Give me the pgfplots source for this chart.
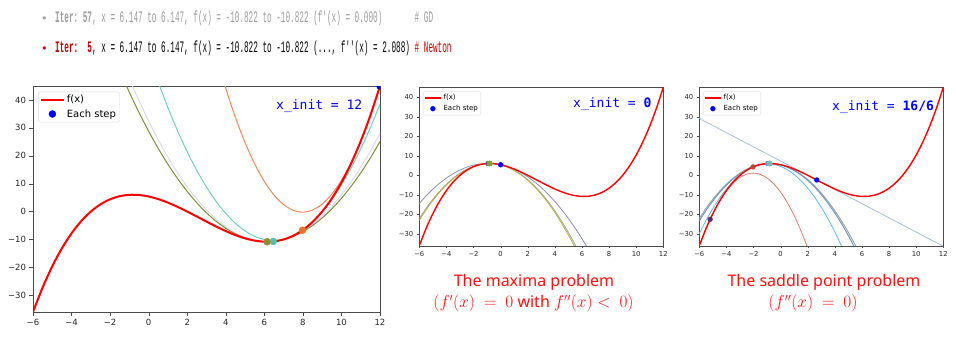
\documentclass[border=0pt]{standalone}
\usepackage{fontspec}
\setmainfont{DejaVu Sans}
\setmonofont{Liberation Mono}
\newfontfamily\capfont{Noto Sans}
\newfontfamily\initfont{DejaVu Sans Mono}
\usepackage{graphicx}
\usepackage{pgfplots}
\usepackage{pgfplotstable}
\pgfplotsset{compat=1.18}

\definecolor{qorange}{HTML}{EC8A60}
\definecolor{qteal}{HTML}{74CFBC}
\definecolor{qlav}{HTML}{DDD8F8}
\definecolor{qolive}{HTML}{7F8E3C}
\definecolor{dorange}{HTML}{E8722E}
\definecolor{dteal}{HTML}{55BDB2}
\definecolor{dolive}{HTML}{8E8C36}
\definecolor{mpurp}{HTML}{8C8CB8}
\definecolor{molive}{HTML}{B2AE3E}
\definecolor{mgray}{HTML}{A0A4A0}
\definecolor{mdot1}{HTML}{4A5A9A}
\definecolor{mdot2}{HTML}{7FA532}
\definecolor{rline}{HTML}{A8BDE8}
\definecolor{rsalmon}{HTML}{E47D6C}
\definecolor{rlblue}{HTML}{5CBDF2}
\definecolor{rgblue}{HTML}{7A95C2}
\definecolor{rggreen}{HTML}{93ABA3}
\definecolor{rdpurp}{HTML}{5A2D6A}
\definecolor{rdred}{HTML}{C0442E}
\definecolor{rdteal}{HTML}{42A8D8}
\definecolor{rdgg}{HTML}{8DB3A8}
\definecolor{txtgray}{HTML}{9C9C9C}
\definecolor{dred}{HTML}{C00000}
\definecolor{capred}{HTML}{FF1010}

% f(x) sampled
\pgfplotstableread{
x y
-6 -36.0
-5.5 -27.1875
-5 -19.6
-4.5 -13.1625
-4 -7.8
-3.5 -3.4375
-3 0
-2.5 2.5875
-2 4.4
-1.5 5.5125
-1 6.0
-0.5 5.9375
0 5.4
0.5 4.4625
1 3.2
1.5 1.6875
2 0
2.5 -1.7875
3 -3.6
3.5 -5.3625
4 -7.0
4.5 -8.4375
5 -9.6
5.5 -10.4125
6 -10.8
6.5 -10.6875
7 -10.0
7.5 -8.6625
8 -6.6
8.5 -3.7375
9 0
9.5 4.6875
10 10.4
10.5 17.2125
11 25.2
11.5 34.4375
12 45.0
}\ftab

% final quadratic near the maximum
\pgfplotstableread{
x y
-6 -22.07
-5.5 -16.91
-5 -12.27
-4.5 -8.16
-4 -4.57
-3.5 -1.50
-3 1.04
-2.5 3.07
-2 4.57
-1.5 5.54
-1 6.00
-0.5 5.93
0 5.35
0.5 4.23
1 2.60
1.5 0.45
2 -2.23
2.5 -5.43
3 -9.16
3.5 -13.40
4 -18.17
4.5 -23.46
5 -29.27
5.5 -35.60
6 -42.46
}\qfin

\pgfplotsset{
  panel/.style={scale only axis, xmin=-6, xmax=12, ymin=-36, ymax=45,
    xtick={-6,-4,-2,0,2,4,6,8,10,12}, ytick={-30,-20,-10,0,10,20,30,40},
    xticklabels={−6,−4,−2,0,2,4,6,8,10,12},
    yticklabels={−30,−20,−10,0,10,20,30,40},
    tick align=outside, tick pos=left,
    axis line style={black!70}, major tick style={black!70},
    tick label style={text=black!85},
    clip marker paths=true, legend cell align=left,
    anchor=south west},
}

\begin{document}
\begin{tikzpicture}
\path[use as bounding box] (0pt,0pt) rectangle (956pt,360pt);

% ---------------- top text ----------------
\node[anchor=base, inner sep=0, text=txtgray, font=\fontsize{11}{12}\selectfont] at (44.3pt,338pt) {•};
\node[anchor=base west, inner sep=0, text=txtgray] at (55pt,337.5pt) {\scalebox{0.48}[1]{\ttfamily\fontsize{16}{18}\selectfont {\bfseries Iter:~57}, x = 6.147 to 6.147, f(x) = -10.822 to -10.822 (f'(x) = 0.000)~~~~~~~\# GD}};
\node[anchor=base, inner sep=0, text=dred, font=\fontsize{11}{12}\selectfont] at (44.3pt,308pt) {•};
\node[anchor=base west, inner sep=0, text=black] at (55pt,307.5pt) {\scalebox{0.48}[1]{\ttfamily\fontsize{16}{18}\selectfont \textcolor{dred}{\bfseries Iter:~~5}, x = 6.147 to 6.147, f(x) = -10.822 to -10.822 (..., f''(x) = 2.088) \textcolor{dred}{\# Newton}}};

% ---------------- left panel ----------------
\begin{axis}[panel, at={(33pt,48pt)}, width=347pt, height=226pt,
  tick label style={font=\fontsize{8.5}{10}\selectfont},
  major tick length=3.5pt,
  legend style={at={(0.015,0.975)}, anchor=north west, font=\fontsize{10}{12}\selectfont,
    draw=black!15, rounded corners=2pt, inner sep=1.5pt, row sep=1pt},
  legend image code/.code={\draw[mark repeat=2,mark phase=2,#1] plot coordinates {(0pt,0pt) (11.5pt,0pt) (23pt,0pt)};},
]
\addplot[qorange, line width=1pt, smooth, forget plot] coordinates {
(3.5,56.05) (4,44.20) (4.5,33.75) (5,24.70) (5.5,17.05) (6,10.80) (6.5,5.95) (7,2.50) (7.5,0.45) (8,-0.20) (8.5,0.55) (9,2.70) (9.5,6.25) (10,11.20) (10.5,17.55) (11,25.30) (11.5,34.45) (12,45.0)};
\addplot[qteal, line width=1pt, smooth, forget plot] coordinates {
(0,56.26) (0.5,46.35) (1,37.24) (1.5,28.92) (2,21.41) (2.5,14.69) (3,8.77) (3.5,3.64) (4,-0.69) (4.5,-4.22) (5,-6.95) (5.5,-8.88) (6,-10.02) (6.5,-10.36) (7,-9.91) (7.5,-8.65) (8,-6.60) (8.5,-3.75) (9,-0.11) (9.5,4.34) (10,9.58) (10.5,15.62) (11,22.45) (11.5,30.08) (12,38.51)};
\addplot[qlav, line width=1pt, smooth, forget plot] coordinates {
(-1.5,56.02) (-1,47.58) (-0.5,39.70) (0,32.40) (0.5,25.67) (1,19.51) (1.5,13.92) (2,8.89) (2.5,4.44) (3,0.55) (3.5,-2.76) (4,-5.51) (4.5,-7.68) (5,-9.29) (5.5,-10.32) (6,-10.79) (6.5,-10.69) (7,-10.02) (7.5,-8.77) (8,-6.96) (8.5,-4.58) (9,-1.63) (9.5,1.89) (10,5.98) (10.5,10.64) (11,15.87) (11.5,21.66) (12,28.03)};
\addplot[qolive, line width=1pt, smooth, forget plot] coordinates {
(-2,58.73) (-1.5,50.46) (-1,42.71) (-0.5,35.48) (0,28.77) (0.5,22.59) (1,16.94) (1.5,11.81) (2,7.20) (2.5,3.12) (3,-0.44) (3.5,-3.48) (4,-5.99) (4.5,-7.98) (5,-9.44) (5.5,-10.38) (6,-10.80) (6.5,-10.69) (7,-10.06) (7.5,-8.90) (8,-7.22) (8.5,-5.02) (9,-2.29) (9.5,0.96) (10,4.74) (10.5,9.04) (11,13.86) (11.5,19.21) (12,25.08)};
\addplot[red, line width=2pt, smooth] table[x=x,y=y] {\ftab};
\addlegendentry{f(x)}
\addplot[only marks, mark=*, mark size=3.5pt, color=blue] coordinates {(12,45)};
\addlegendentry{Each step}
\addplot[only marks, mark=*, mark size=3.5pt, color=dorange, forget plot] coordinates {(7.982,-6.687)};
\addplot[only marks, mark=*, mark size=3.5pt, color=dteal, forget plot] coordinates {(6.464,-10.714)};
\addplot[only marks, mark=*, mark size=3.5pt, color=qlav, forget plot] coordinates {(6.16,-10.822)};
\addplot[only marks, mark=*, mark size=3.5pt, color=dolive, forget plot] coordinates {(6.147,-10.822)};
\end{axis}

% ---------------- middle panel ----------------
\begin{axis}[panel, at={(419.3pt,114.3pt)}, width=244pt, height=158.4pt,
  tick label style={font=\fontsize{6.8}{8}\selectfont},
  major tick length=2.5pt,
  legend style={at={(0.015,0.975)}, anchor=north west, font=\fontsize{7}{8.4}\selectfont,
    draw=black!15, rounded corners=1.5pt, inner sep=1pt, row sep=0pt},
  legend image code/.code={\draw[mark repeat=2,mark phase=2,#1] plot coordinates {(0pt,0pt) (8pt,0pt) (16pt,0pt)};},
]
\addplot[mpurp, line width=0.8pt, smooth, forget plot] coordinates {
(-6,-14.40) (-5.5,-10.55) (-5,-7.10) (-4.5,-4.05) (-4,-1.40) (-3.5,0.85) (-3,2.70) (-2.5,4.15) (-2,5.20) (-1.5,5.85) (-1,6.10) (-0.5,5.95) (0,5.40) (0.5,4.45) (1,3.10) (1.5,1.35) (2,-0.80) (2.5,-3.35) (3,-6.30) (3.5,-9.65) (4,-13.40) (4.5,-17.55) (5,-22.10) (5.5,-27.05) (6,-32.40) (6.5,-38.15)};
\addplot[mgray, line width=0.8pt, smooth, forget plot] table[x=x,y=y] {\qfin};
\addplot[molive, line width=0.8pt, smooth, forget plot] coordinates {
(-6,-23.03) (-5.5,-17.69) (-5,-12.90) (-4.5,-8.64) (-4,-4.93) (-3.5,-1.76) (-3,0.88) (-2.5,2.97) (-2,4.52) (-1.5,5.53) (-1,6.00) (-0.5,5.93) (0,5.32) (0.5,4.17) (1,2.47) (1.5,0.24) (2,-2.53) (2.5,-5.85) (3,-9.71) (3.5,-14.10) (4,-19.04) (4.5,-24.51) (5,-30.53) (5.5,-37.09)};
\addplot[red, line width=1.4pt, smooth] table[x=x,y=y] {\ftab};
\addlegendentry{f(x)}
\addplot[only marks, mark=*, mark size=2.4pt, color=blue] coordinates {(0,5.4)};
\addlegendentry{Each step}
\addplot[only marks, mark=*, mark size=2.4pt, color=mdot1, forget plot] coordinates {(-0.9375,6.021)};
\addplot[only marks, mark=*, mark size=2.6pt, color=mdot2, forget plot] coordinates {(-0.8156,6.037)};
\addplot[only marks, mark=*, mark size=2.6pt, color=mdot2, forget plot] coordinates {(-0.8134,6.037)};
\end{axis}

% ---------------- right panel ----------------
\begin{axis}[panel, at={(699.3pt,114.3pt)}, width=244pt, height=158.4pt,
  tick label style={font=\fontsize{6.8}{8}\selectfont},
  major tick length=2.5pt,
  legend style={at={(0.015,0.975)}, anchor=north west, font=\fontsize{7}{8.4}\selectfont,
    draw=black!15, rounded corners=1.5pt, inner sep=1pt, row sep=0pt},
  legend image code/.code={\draw[mark repeat=2,mark phase=2,#1] plot coordinates {(0pt,0pt) (8pt,0pt) (16pt,0pt)};},
]
\addplot[rline, line width=0.8pt, forget plot] coordinates {(-6,29.09) (12,-36.30)};
\addplot[rsalmon, line width=0.8pt, smooth, forget plot] coordinates {
(-6,-35.95) (-5.5,-27.19) (-5,-19.60) (-4.5,-13.20) (-4,-7.97) (-3.5,-3.93) (-3,-1.06) (-2.5,0.62) (-2,1.13) (-1.5,0.45) (-1,-1.40) (-0.5,-4.44) (0,-8.65) (0.5,-14.05) (1,-20.62) (1.5,-28.38) (2,-37.31)};
\addplot[rlblue, line width=0.8pt, smooth, forget plot] coordinates {
(-6,-29.77) (-5.5,-23.03) (-5,-17.00) (-4.5,-11.67) (-4,-7.04) (-3.5,-3.12) (-3,0.09) (-2.5,2.60) (-2,4.40) (-1.5,5.50) (-1,5.89) (-0.5,5.58) (0,4.56) (0.5,2.83) (1,0.40) (1.5,-2.73) (2,-6.57) (2.5,-11.12) (3,-16.37) (3.5,-22.33) (4,-28.99) (4.5,-36.36)};
\addplot[rggreen, line width=1pt, smooth, forget plot] table[x=x,y=y] {\qfin};
\addplot[rgblue, line width=1pt, smooth, forget plot] coordinates {
(-6,-23.29) (-5.5,-17.91) (-5,-13.07) (-4.5,-8.77) (-4,-5.02) (-3.5,-1.82) (-3,0.83) (-2.5,2.94) (-2,4.51) (-1.5,5.53) (-1,6.00) (-0.5,5.93) (0,5.31) (0.5,4.14) (1,2.43) (1.5,0.18) (2,-2.63) (2.5,-5.97) (3,-9.87) (3.5,-14.31) (4,-19.29) (4.5,-24.83) (5,-30.90) (5.5,-37.53)};
\addplot[red, line width=1.4pt, smooth] table[x=x,y=y] {\ftab};
\addlegendentry{f(x)}
\addplot[only marks, mark=*, mark size=2.4pt, color=blue] coordinates {(2.667,-2.393)};
\addlegendentry{Each step}
\addplot[only marks, mark=*, mark size=2.4pt, color=rdpurp, forget plot] coordinates {(-5.2,-22.49)};
\addplot[only marks, mark=*, mark size=2.4pt, color=rdred, forget plot] coordinates {(-2.036,4.294)};
\addplot[only marks, mark=*, mark size=2.4pt, color=rdteal, forget plot] coordinates {(-0.9724,6.010)};
\addplot[only marks, mark=*, mark size=2.6pt, color=rgblue, forget plot] coordinates {(-0.8169,6.037)};
\addplot[only marks, mark=*, mark size=2.6pt, color=rdgg, forget plot] coordinates {(-0.8134,6.037)};
\end{axis}

% ---------------- annotations ----------------
\node[anchor=west, inner sep=0, text=blue, font=\initfont\fontsize{13}{15}\selectfont] at (276pt,254pt) {x\_init = 12};
\node[anchor=west, inner sep=0, text=blue, font=\initfont\fontsize{13}{15}\selectfont] at (573pt,256pt) {x\_init = \textbf{0}};
\node[anchor=west, inner sep=0, text=blue, font=\initfont\fontsize{13}{15}\selectfont] at (832pt,253pt) {x\_init = \textbf{16/6}};

\node[text=capred, inner sep=0, font=\capfont\fontsize{16}{19}\selectfont] at (534pt,78pt) {The maxima problem};
\node[text=capred, inner sep=0, font=\capfont\fontsize{16}{19}\selectfont] at (533.5pt,57pt) {$(f'(x)\ =\ 0$ with $f''(x) <\ 0)$};
\node[text=capred, inner sep=0, font=\capfont\fontsize{16}{19}\selectfont] at (824pt,78pt) {The saddle point problem};
\node[text=capred, inner sep=0, font=\capfont\fontsize{16}{19}\selectfont] at (813pt,57pt) {$(f''(x)\ =\ 0)$};
\end{tikzpicture}
\end{document}
